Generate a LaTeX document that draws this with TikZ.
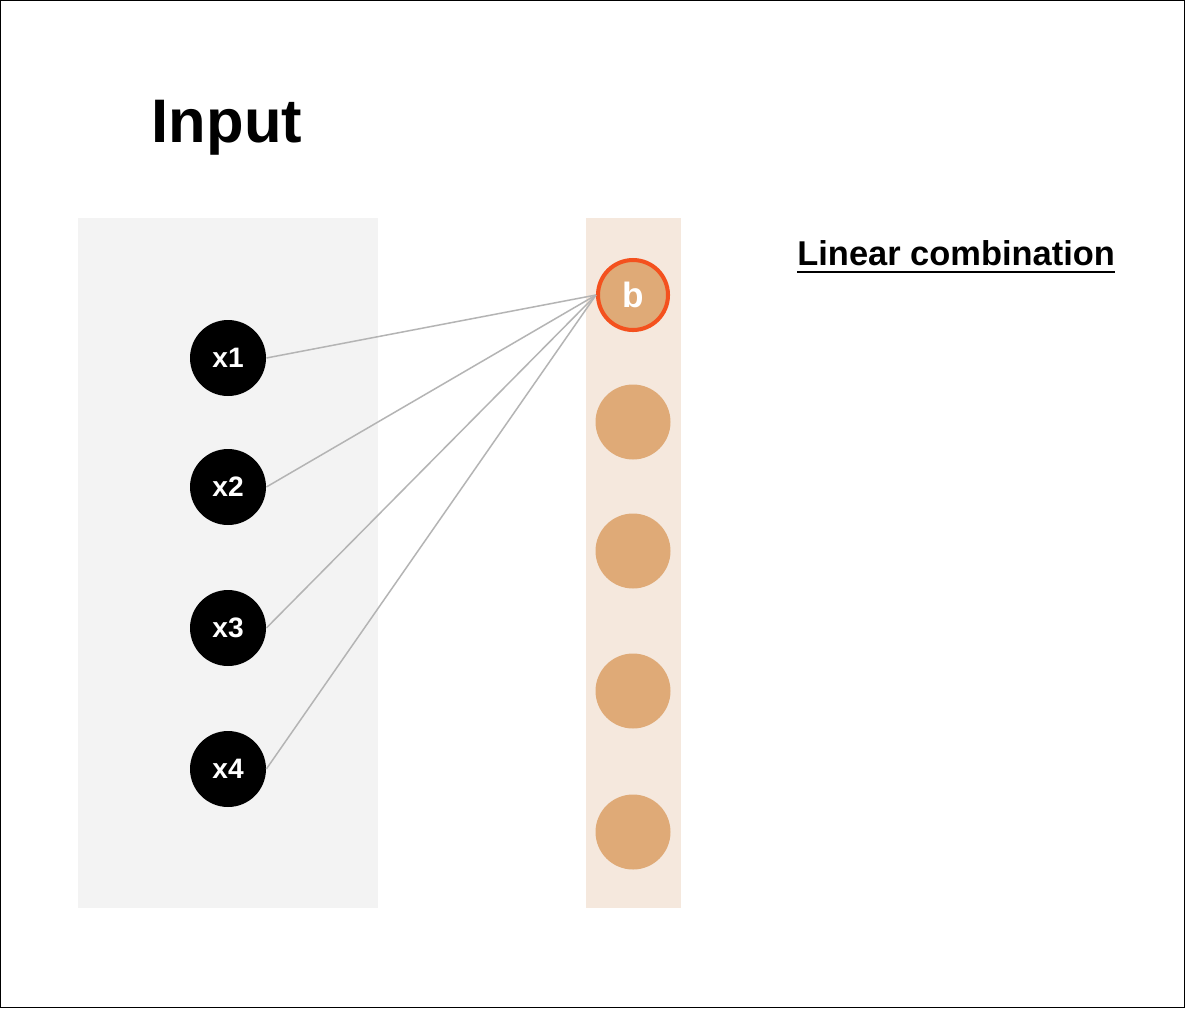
\documentclass[tikz,border=0pt]{standalone}
\usepackage{fontspec}
\setmainfont{Liberation Sans}
\usepackage{tikz}
\definecolor{cloud}{RGB}{243, 243, 243}
\definecolor{sand}{RGB}{245, 232, 221}
\definecolor{caramel}{RGB}{223, 170, 119}
\definecolor{flame}{RGB}{244, 81, 30}
\definecolor{silver}{RGB}{180, 180, 180}
\tikzset{
    innode/.style  = {circle, fill=black, minimum size=1.52cm, inner sep=0pt,
                      text=white, font=\fontsize{16}{16}\selectfont\bfseries},
    hidnode/.style = {circle, fill=caramel, minimum size=1.5cm, inner sep=0pt},
    bias/.style    = {circle, fill=caramel, draw=flame, line width=2.3pt, minimum size=1.4cm,
                      inner sep=0pt, text=white, font=\fontsize{20}{20}\selectfont\bfseries},
    wire/.style    = {draw=silver, line width=0.85pt}
}

\begin{document}
\begin{tikzpicture}[x=0.02cm, y=-0.02cm]
            \useasboundingbox                                             (0, 0) rectangle (1185, 1008);
            \fill[white]                                                  (0, 0) rectangle (1185, 1008);
            \draw[black, line width=0.6pt]                                (0.5, 0.5) rectangle (1184.5, 1007.5);
            \fill[cloud]                                                  ( 78, 218) rectangle ( 378, 908);
            \fill[sand]                                                   (586, 218) rectangle ( 681, 908);
            \node[font=\fontsize{35}{35}\selectfont\bfseries, anchor=base, inner sep=0pt]
                 (title) at (227, 142) {Input};
            \node[font=\fontsize{19.6}{20}\selectfont\bfseries, anchor=base west, inner sep=0pt]
                 (lc) at (797, 265) {Linear combination};
            \draw[black, line width=1.2pt] ([yshift=-0.14cm]lc.base west) -- ([yshift=-0.14cm]lc.base east);
            % inputs
            \node[innode] (x1) at (228, 358) {x1};
            \node[innode] (x2) at (228, 487) {x2};
            \node[innode] (x3) at (228, 628) {x3};
            \node[innode] (x4) at (228, 769) {x4};
            % linear combination units
            \node[bias]    (b)  at (633, 295) {b};
            \node[hidnode] (h2) at (633, 422) {};
            \node[hidnode] (h3) at (633, 551) {};
            \node[hidnode] (h4) at (633, 691) {};
            \node[hidnode] (h5) at (633, 832) {};
            \foreach \i in {1,...,4}
                \draw[wire] (x\i.east) -- (b.west);
        \end{tikzpicture}
\end{document}
